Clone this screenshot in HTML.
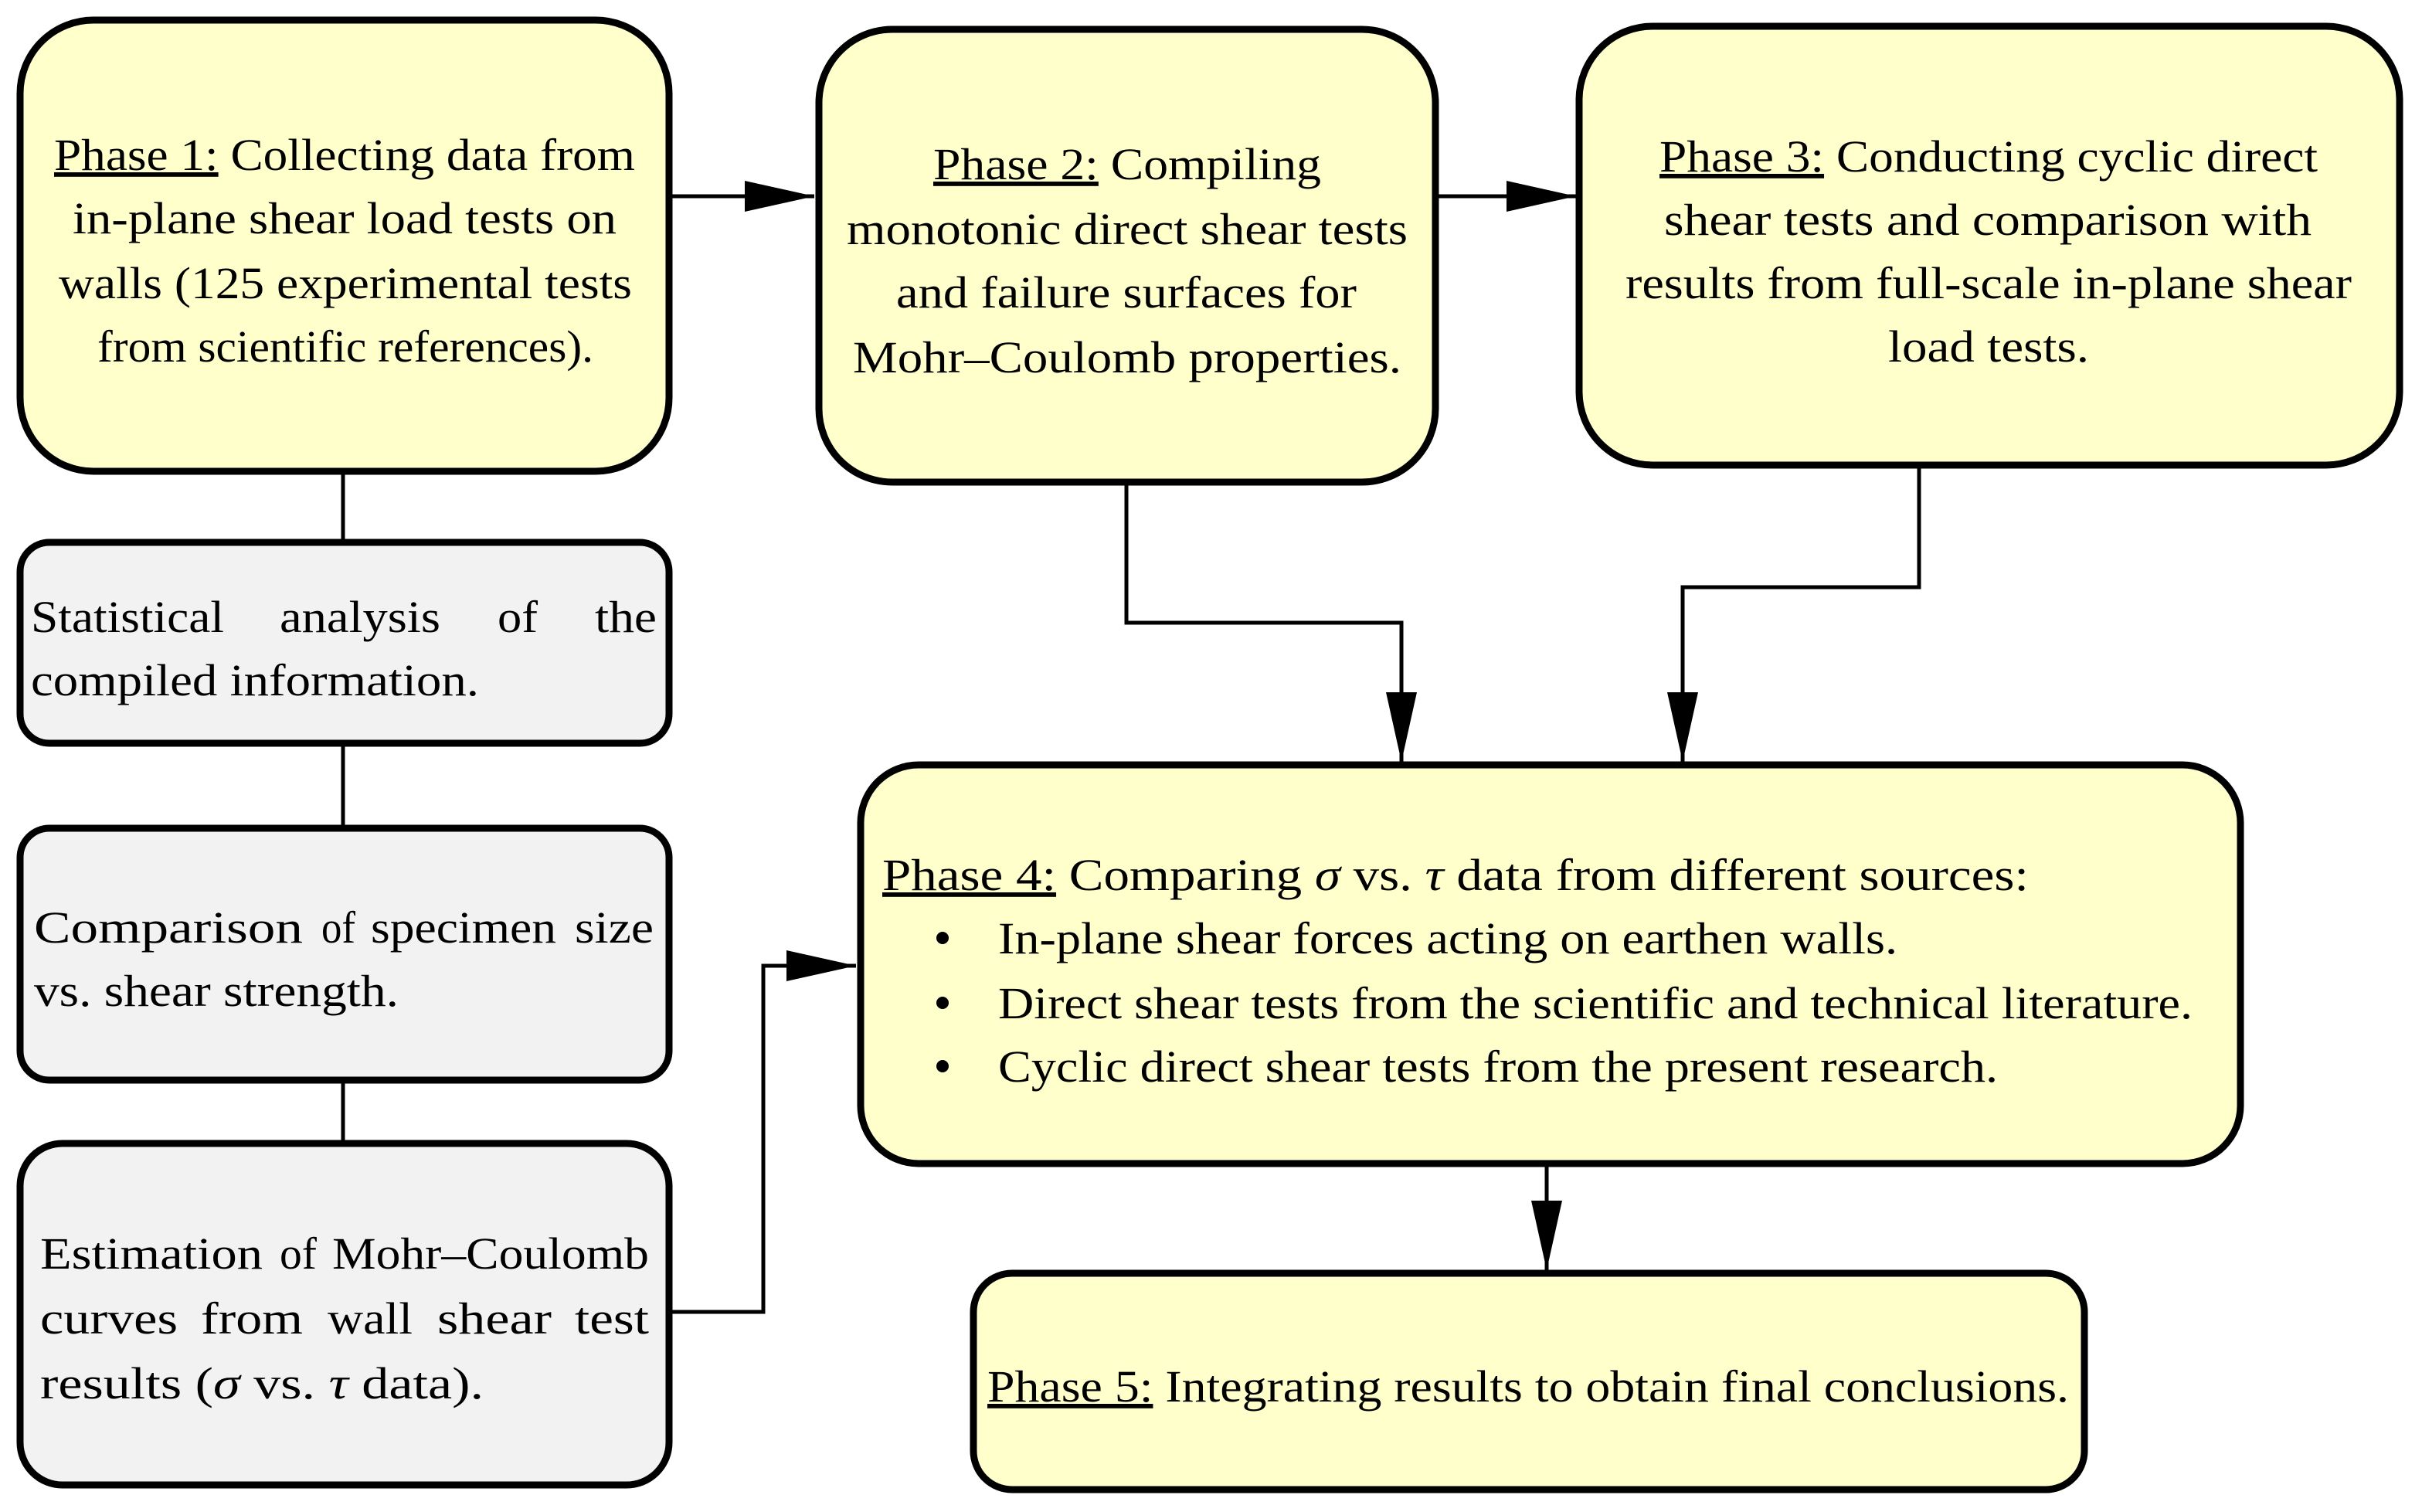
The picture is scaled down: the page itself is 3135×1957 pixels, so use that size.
<!DOCTYPE html>
<html><head><meta charset="utf-8"><style>
html,body{margin:0;padding:0;background:#fff;}
svg{display:block;}
text{font-family:"Liberation Serif",serif;font-size:58px;fill:#000;}
.u{text-decoration:underline;}
</style></head><body>
<svg width="3135" height="1957" viewBox="0 0 3135 1957" xmlns="http://www.w3.org/2000/svg">
<defs>
<marker id="a" markerWidth="90" markerHeight="40" refX="90" refY="20" orient="auto" markerUnits="userSpaceOnUse">
<path d="M0,0 L90,20 L0,40 Z" fill="#000"/>
</marker>
</defs>
<g stroke="#000" stroke-width="5" fill="none">
<line x1="868" y1="254" x2="1054" y2="254" marker-end="url(#a)"/>
<line x1="1858" y1="254" x2="2040" y2="254" marker-end="url(#a)"/>
<line x1="444" y1="610" x2="444" y2="700"/>
<line x1="444" y1="962" x2="444" y2="1070"/>
<line x1="444" y1="1398" x2="444" y2="1478"/>
<polyline points="866,1698 988,1698 988,1250 1108,1250" marker-end="url(#a)"/>
<polyline points="1458,624 1458,806 1814,806 1814,986" marker-end="url(#a)"/>
<polyline points="2484,602 2484,760 2178,760 2178,986" marker-end="url(#a)"/>
<line x1="2002" y1="1506" x2="2002" y2="1644" marker-end="url(#a)"/>
</g>
<g stroke="#000" stroke-width="9">
<rect x="26" y="26" width="840" height="584" rx="95" fill="#ffffcc"/>
<rect x="1060" y="38" width="798" height="586" rx="95" fill="#ffffcc"/>
<rect x="2044" y="34" width="1062" height="568" rx="95" fill="#ffffcc"/>
<rect x="26" y="702" width="840" height="260" rx="38" fill="#f2f2f2"/>
<rect x="26" y="1072" width="840" height="326" rx="38" fill="#f2f2f2"/>
<rect x="26" y="1480" width="840" height="442" rx="55" fill="#f2f2f2"/>
<rect x="1114" y="990" width="1786" height="516" rx="75" fill="#ffffcc"/>
<rect x="1260" y="1648" width="1438" height="280" rx="50" fill="#ffffcc"/>
</g>
<g>
<text x="70" y="220" textLength="752" lengthAdjust="spacingAndGlyphs"><tspan class="u">Phase 1:</tspan> Collecting data from</text>
<text x="94" y="302" textLength="704" lengthAdjust="spacingAndGlyphs">in-plane shear load tests on</text>
<text x="76" y="386" textLength="742" lengthAdjust="spacingAndGlyphs">walls (125 experimental tests</text>
<text x="126" y="468" textLength="642" lengthAdjust="spacingAndGlyphs">from scientific references).</text>

<text x="1208" y="232" textLength="502" lengthAdjust="spacingAndGlyphs"><tspan class="u">Phase 2:</tspan> Compiling</text>
<text x="1096" y="316" textLength="726" lengthAdjust="spacingAndGlyphs">monotonic direct shear tests</text>
<text x="1160" y="398" textLength="596" lengthAdjust="spacingAndGlyphs">and failure surfaces for</text>
<text x="1104" y="482" textLength="710" lengthAdjust="spacingAndGlyphs">Mohr–Coulomb properties.</text>

<text x="2148" y="222" textLength="852" lengthAdjust="spacingAndGlyphs"><tspan class="u">Phase 3:</tspan> Conducting cyclic direct</text>
<text x="2154" y="304" textLength="838" lengthAdjust="spacingAndGlyphs">shear tests and comparison with</text>
<text x="2104" y="386" textLength="940" lengthAdjust="spacingAndGlyphs">results from full-scale in-plane shear</text>
<text x="2444" y="468" textLength="260" lengthAdjust="spacingAndGlyphs">load tests.</text>

<text x="40" y="818" textLength="250" lengthAdjust="spacingAndGlyphs">Statistical</text>
<text x="362" y="818" textLength="208" lengthAdjust="spacingAndGlyphs">analysis</text>
<text x="644" y="818" textLength="52" lengthAdjust="spacingAndGlyphs">of</text>
<text x="770" y="818" textLength="80" lengthAdjust="spacingAndGlyphs">the</text>
<text x="40" y="900" textLength="580" lengthAdjust="spacingAndGlyphs">compiled information.</text>

<text x="44" y="1220" textLength="348" lengthAdjust="spacingAndGlyphs">Comparison</text>
<text x="416" y="1220" textLength="44" lengthAdjust="spacingAndGlyphs">of</text>
<text x="480" y="1220" textLength="240" lengthAdjust="spacingAndGlyphs">specimen</text>
<text x="744" y="1220" textLength="102" lengthAdjust="spacingAndGlyphs">size</text>
<text x="44" y="1302" textLength="472" lengthAdjust="spacingAndGlyphs">vs. shear strength.</text>

<text x="52" y="1642" textLength="288" lengthAdjust="spacingAndGlyphs">Estimation</text>
<text x="362" y="1642" textLength="48" lengthAdjust="spacingAndGlyphs">of</text>
<text x="430" y="1642" textLength="410" lengthAdjust="spacingAndGlyphs">Mohr–Coulomb</text>
<text x="52" y="1726" textLength="178" lengthAdjust="spacingAndGlyphs">curves</text>
<text x="260" y="1726" textLength="132" lengthAdjust="spacingAndGlyphs">from</text>
<text x="424" y="1726" textLength="110" lengthAdjust="spacingAndGlyphs">wall</text>
<text x="566" y="1726" textLength="148" lengthAdjust="spacingAndGlyphs">shear</text>
<text x="744" y="1726" textLength="96" lengthAdjust="spacingAndGlyphs">test</text>
<text x="52" y="1810" textLength="574" lengthAdjust="spacingAndGlyphs">results (<tspan font-style="italic">σ</tspan>  vs.  <tspan font-style="italic">τ</tspan>  data).</text>

<text x="1142" y="1152" textLength="1484" lengthAdjust="spacingAndGlyphs"><tspan class="u">Phase 4:</tspan> Comparing  <tspan font-style="italic">σ</tspan>  vs.  <tspan font-style="italic">τ</tspan>  data from different sources:</text>
<circle cx="1220" cy="1214" r="8"/>
<circle cx="1220" cy="1298" r="8"/>
<circle cx="1220" cy="1380" r="8"/>
<text x="1292" y="1234" textLength="1164" lengthAdjust="spacingAndGlyphs">In-plane shear forces acting on earthen walls.</text>
<text x="1292" y="1318" textLength="1546" lengthAdjust="spacingAndGlyphs">Direct shear tests from the scientific and technical literature.</text>
<text x="1292" y="1400" textLength="1294" lengthAdjust="spacingAndGlyphs">Cyclic direct shear tests from the present research.</text>

<text x="1278" y="1814" textLength="1400" lengthAdjust="spacingAndGlyphs"><tspan class="u">Phase 5:</tspan> Integrating results to obtain final conclusions.</text>
</g>
</svg>
</body></html>
